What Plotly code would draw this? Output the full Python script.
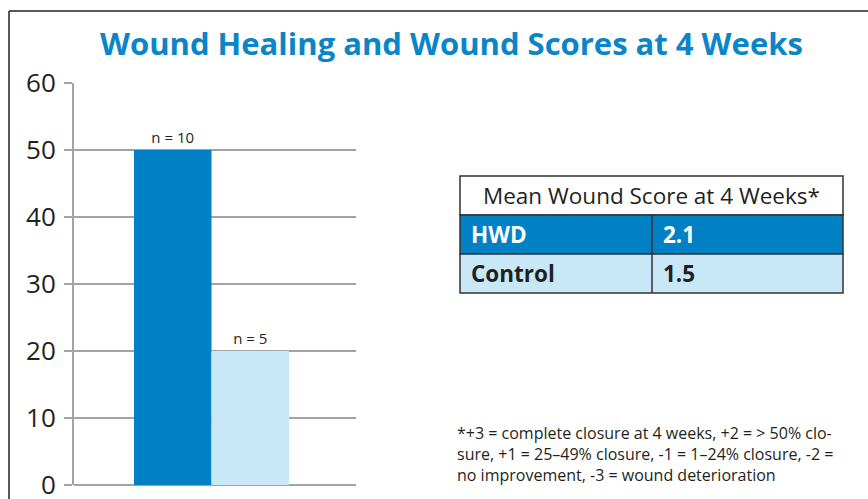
import plotly.graph_objects as go

# ---- data ----
groups = ["HWD", "Control"]
healed_pct = [50, 20]
n_labels = ["n = 10", "n = 5"]
score_groups = ["HWD", "Control"]
mean_scores = ["2.1", "1.5"]
y_ticks = [0, 10, 20, 30, 40, 50, 60]
title_text = "Wound Healing and Wound Scores at 4 Weeks"
table_title = "Mean Wound Score at 4 Weeks*"
footnote_lines = [
    "*+3 = complete closure at 4 weeks, +2 = > 50% clo-",
    "sure, +1 = 25\u201349% closure, -1 = 1\u201324% closure, -2 =",
    "no improvement, -3 = wound deterioration",
]

DARK = "#0081c6"
LIGHT = "#c8e8f8"
TXT = "#231f20"
GRID = "#a3a3a3"
FONT = "Open Sans"

W, H = 868, 499
L, R, T, B = 74, 356, 83, 485


def px(x):
    return (x - L) / (R - L)


def py(y):
    return (B - y) / (B - T)


fig = go.Figure()
colors = [DARK, LIGHT]
for g, v, n, c in zip(groups, healed_pct, n_labels, colors):
    fig.add_trace(go.Bar(
        x=["4 weeks"], y=[v], name=g, marker=dict(color=c, line=dict(width=0)),
        text=[n], textposition="outside", cliponaxis=False, constraintext="none",
        textfont=dict(family=FONT, size=15, color=TXT),
    ))

shapes = []
# frame (top + left)
shapes.append(dict(type="line", xref="paper", yref="paper", x0=px(9), x1=px(870), y0=py(11), y1=py(11),
                   line=dict(color="#222", width=1.5)))
shapes.append(dict(type="line", xref="paper", yref="paper", x0=px(9), x1=px(9), y0=py(11), y1=py(500),
                   line=dict(color="#222", width=1.5)))

# table
tx0, tx1, txm = 460, 843, 652
ty = [176, 215, 254, 293]
row_fill = [DARK, LIGHT]
shapes.append(dict(type="rect", xref="paper", yref="paper", x0=px(tx0), x1=px(tx1), y0=py(ty[0]), y1=py(ty[1]),
                   fillcolor="white", line=dict(color="#333", width=1.5), layer="below"))
for i in range(2):
    shapes.append(dict(type="rect", xref="paper", yref="paper", x0=px(tx0), x1=px(tx1), y0=py(ty[i + 1]),
                       y1=py(ty[i + 2]), fillcolor=row_fill[i], line=dict(color="#333", width=1.5), layer="below"))
shapes.append(dict(type="line", xref="paper", yref="paper", x0=px(txm), x1=px(txm), y0=py(ty[1]), y1=py(ty[3]),
                   line=dict(color="#333", width=1.5)))

annotations = []
annotations.append(dict(text="<b>" + title_text + "</b>", xref="paper", yref="paper", x=px(451), y=py(43),
                        xanchor="center", yanchor="middle", showarrow=False,
                        font=dict(family=FONT, size=31, color="#0a85c7")))
annotations.append(dict(text=table_title, xref="paper", yref="paper", x=px((tx0 + tx1) / 2), y=py(195),
                        xanchor="center", yanchor="middle", showarrow=False,
                        font=dict(family=FONT, size=22.5, color=TXT)))
row_txt = ["white", TXT]
for i, (g, s) in enumerate(zip(score_groups, mean_scores)):
    yc = py((ty[i + 1] + ty[i + 2]) / 2)
    annotations.append(dict(text="<b>" + g + "</b>", xref="paper", yref="paper", x=px(469), y=yc,
                            xanchor="left", yanchor="middle", showarrow=False,
                            font=dict(family=FONT, size=22.5, color=row_txt[i])))
    annotations.append(dict(text="<b>" + s + "</b>", xref="paper", yref="paper", x=px(661), y=yc,
                            xanchor="left", yanchor="middle", showarrow=False,
                            font=dict(family=FONT, size=22.5, color=row_txt[i])))
annotations.append(dict(text="<br>".join(footnote_lines), xref="paper", yref="paper", x=px(455), y=py(454),
                        xanchor="left", yanchor="middle", align="left", showarrow=False,
                        font=dict(family=FONT, size=16, color=TXT)))

off = -3.5 / (R - L)
fig.update_layout(
    width=W, height=H, autosize=False,
    margin=dict(l=L, r=W - R, t=T, b=H - B, pad=0, autoexpand=False),
    paper_bgcolor="white", plot_bgcolor="white",
    barmode="group", bargap=0.45, bargroupgap=0,
    showlegend=False,
    shapes=shapes, annotations=annotations,
    xaxis=dict(showticklabels=False, showgrid=False, zeroline=False, showline=False, ticks="",
               range=[-0.5 - off, 0.5 - off], fixedrange=True, automargin=False),
    yaxis=dict(range=[0, 60], tickvals=y_ticks, showgrid=True, gridcolor=GRID, gridwidth=2,
               zeroline=True, zerolinecolor=GRID, zerolinewidth=2,
               showline=True, linecolor=GRID, linewidth=2,
               ticks="outside", ticklen=8, tickcolor=GRID, tickwidth=2,
               ticklabeloverflow="allow", automargin=False,
               tickfont=dict(family=FONT, size=26, color=TXT), ticklabelstandoff=3),
)

js = (
    "document.documentElement.style.overflow='hidden';"
    "document.body.style.margin='0px';"
    "document.body.style.overflow='hidden';"
)
fig.write_html("out.html", config={"displayModeBar": False}, post_script=js)
